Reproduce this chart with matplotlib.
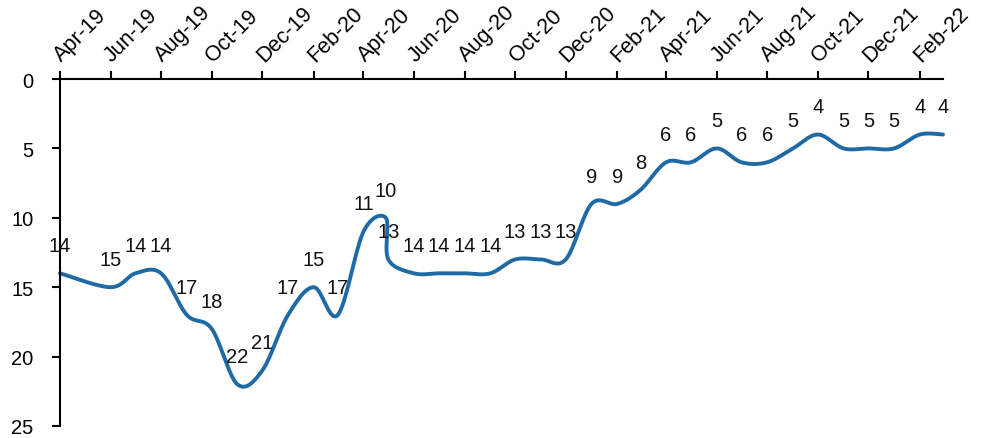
import matplotlib
matplotlib.use("Agg")
import matplotlib.pyplot as plt
import matplotlib.dates as mdates
import matplotlib.transforms as mtransforms
import numpy as np
import pandas as pd

plt.rcParams['font.family'] = ['Liberation Sans', 'DejaVu Sans']

dates = ['2019-04-01', '2019-06-01', '2019-07-01', '2019-08-01', '2019-09-01',
         '2019-10-01', '2019-11-01', '2019-12-01', '2020-01-01', '2020-02-01',
         '2020-03-01', '2020-04-01', '2020-04-28', '2020-05-01', '2020-06-01',
         '2020-07-01', '2020-08-01', '2020-09-01', '2020-10-01', '2020-11-01',
         '2020-12-01', '2021-01-01', '2021-02-01', '2021-03-01', '2021-04-01',
         '2021-05-01', '2021-06-01', '2021-07-01', '2021-08-01', '2021-09-01',
         '2021-10-01', '2021-11-01', '2021-12-01', '2022-01-01', '2022-02-01',
         '2022-03-01']
values = [14, 15, 14, 14, 17, 18, 22, 21, 17, 15, 17, 11, 10, 13, 14, 14, 14, 14,
          13, 13, 13, 9, 9, 8, 6, 6, 5, 6, 6, 5, 4, 5, 5, 5, 4, 4]
y_ticks = [0, 5, 10, 15, 20, 25]

x = mdates.date2num(pd.to_datetime(dates))
y = np.array(values, dtype=float)


def smooth(xs, ys, n=30):
    P = np.column_stack([xs, ys])
    m = len(P)
    out = []
    for i in range(m - 1):
        p0 = P[i - 1] if i > 0 else P[i]
        p1 = P[i]
        p2 = P[i + 1]
        p3 = P[i + 2] if i + 2 < m else P[i + 1]
        c1 = p1 + (p2 - p0) / 6.0
        c2 = p2 - (p3 - p1) / 6.0
        t = np.linspace(0, 1, n)[:, None]
        seg = ((1 - t) ** 3) * p1 + 3 * ((1 - t) ** 2) * t * c1 + 3 * (1 - t) * t ** 2 * c2 + t ** 3 * p2
        out.append(seg if i == 0 else seg[1:])
    out = np.vstack(out)
    return out[:, 0], out[:, 1]


fig = plt.figure(figsize=(9.84, 4.39), dpi=100)
ax = fig.add_axes([60 / 984, 1 - 427 / 439, (943 - 60) / 984, (427 - 80) / 439])

sx, sy = smooth(x, y)
ax.plot(sx, sy, color='#1f6aa5', lw=2.8, solid_capstyle='round', clip_on=False)

for xi, yi in zip(x, values):
    ax.annotate(str(yi), (xi, yi), xytext=(0, 20), textcoords='offset points',
                ha='center', va='center', fontsize=14.5, color='#111111', annotation_clip=False)

ax.set_xlim(mdates.date2num(pd.Timestamp('2019-04-01')), mdates.date2num(pd.Timestamp('2022-03-01')))
ax.set_ylim(25, 0)
ax.set_yticks(y_ticks)

ax.xaxis.tick_top()
ax.xaxis.set_major_locator(mdates.MonthLocator(bymonth=[2, 4, 6, 8, 10, 12]))
ax.xaxis.set_major_formatter(mdates.DateFormatter('%b-%y'))
ax.tick_params(axis='x', direction='out', length=6, width=1.5, labelsize=15.5, pad=4)
ax.tick_params(axis='y', direction='out', length=6, width=1.5, labelsize=14.5, pad=13)

offset = mtransforms.ScaledTranslation(5 / 100, 0, fig.dpi_scale_trans)
for lab in ax.get_xticklabels():
    lab.set_rotation(45)
    lab.set_ha('left')
    lab.set_va('bottom')
    lab.set_rotation_mode('anchor')
    lab.set_transform(lab.get_transform() + offset)

for s in ['right', 'bottom']:
    ax.spines[s].set_visible(False)
for s in ['left', 'top']:
    ax.spines[s].set_linewidth(1.5)
    ax.spines[s].set_color('black')

fig.savefig('out.png', dpi=100)
